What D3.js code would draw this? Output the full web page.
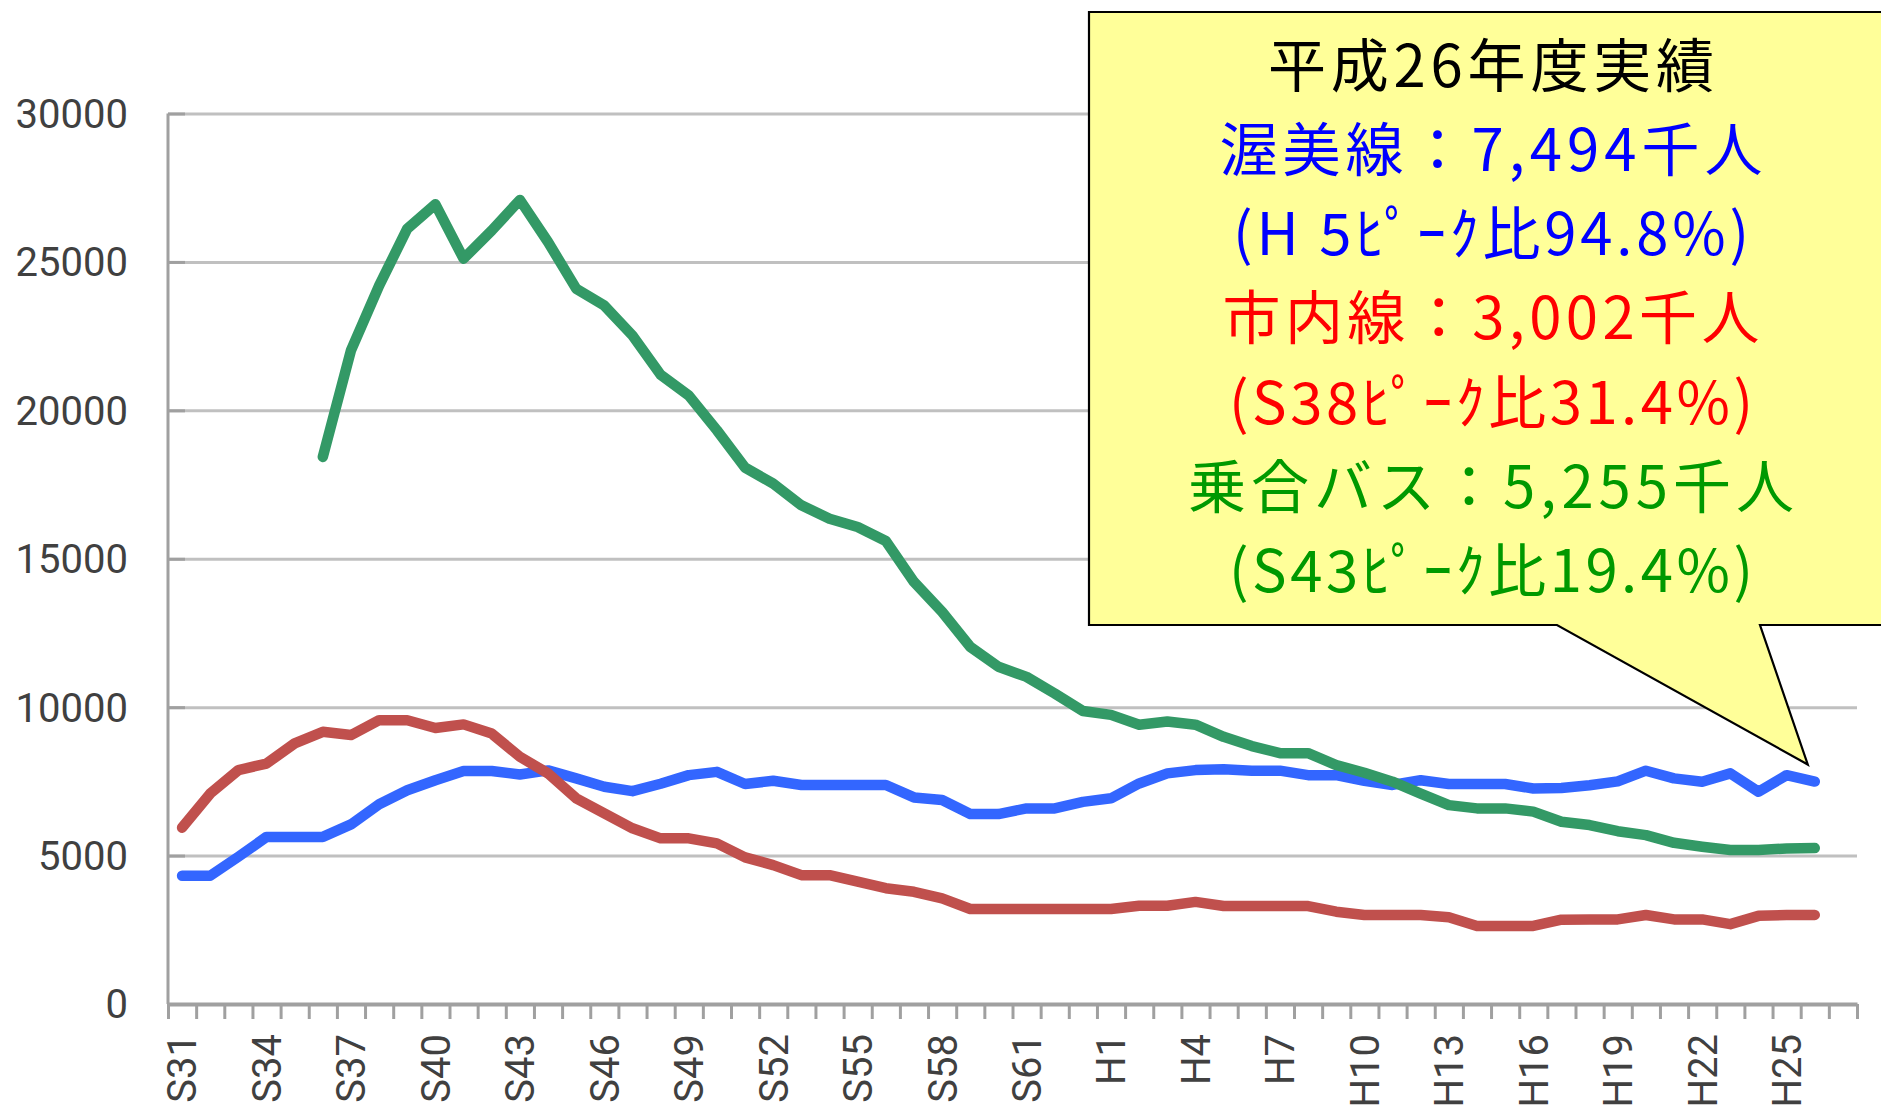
<!DOCTYPE html>
<html>
<head>
<meta charset="utf-8">
<script src="https://cdn.jsdelivr.net/npm/d3@7"></script>
<style>
  html, body { margin: 0; padding: 0; background: #ffffff; }
  svg { display: block; }
</style>
</head>
<body>
<script>
// ---- data ----
const categories = [
  "S31","S32","S33","S34","S35","S36","S37","S38","S39","S40","S41","S42","S43","S44","S45","S46","S47","S48","S49","S50",
  "S51","S52","S53","S54","S55","S56","S57","S58","S59","S60","S61","S62","S63",
  "H1","H2","H3","H4","H5","H6","H7","H8","H9","H10","H11","H12","H13","H14","H15","H16","H17","H18","H19","H20",
  "H21","H22","H23","H24","H25","H26","H27"
];
const tickLabelEvery = 3;
const yTicks = [0, 5000, 10000, 15000, 20000, 25000, 30000];

// 渥美線 (S31 .. H26)
const atsumiLine = [
  4320,4320,4960,5630,5630,5630,6050,6730,7200,7540,7850,7850,7730,7870,7600,7320,7170,7420,7710,7820,
  7410,7520,7380,7380,7380,7380,6960,6870,6400,6400,6590,6590,6810,
  6930,7430,7770,7880,7905,7860,7860,7710,7710,7520,7380,7540,7410,7410,7410,7260,7280,7370,7500,7860,
  7600,7490,7770,7150,7710,7494
];
// 市内線
const shinaiLine = [
  5940,7090,7880,8100,8780,9170,9060,9561,9560,9300,9420,9110,8330,7770,6930,6420,5920,5580,5580,5410,
  4940,4680,4340,4340,4120,3900,3780,3560,3200,3200,3200,3200,3200,
  3200,3310,3310,3440,3300,3300,3300,3300,3110,3000,3000,3000,2920,2630,2630,2630,2840,2850,2850,3000,
  2850,2850,2690,2970,3000,3002
];
// 乗合バス
const noriaiBus = [
  null,null,null,null,null,18430,22020,24200,26120,26940,25110,26060,27088,25670,24100,23530,22520,21200,20500,19330,
  18070,17530,16800,16350,16070,15600,14220,13210,12030,11360,11020,10460,9870,
  9740,9410,9520,9410,9000,8690,8450,8450,8050,7790,7490,7090,6700,6590,6590,6480,6140,6030,5820,5690,
  5430,5300,5190,5190,5240,5255
];

const seriesNames = ["渥美線", "市内線", "乗合バス"];
const seriesColors = ["#3366FF", "#C0504D", "#339966"];

const calloutLines = [
  { text: "平成26年度実績", color: "#000000" },
  { text: "渥美線：7,494千人", color: "#0000FF" },
  { text: "(H 5ﾋﾟｰｸ比94.8%)", color: "#0000FF" },
  { text: "市内線：3,002千人", color: "#FF0000" },
  { text: "(S38ﾋﾟｰｸ比31.4%)", color: "#FF0000" },
  { text: "乗合バス：5,255千人", color: "#009900" },
  { text: "(S43ﾋﾟｰｸ比19.4%)", color: "#009900" }
];
const calloutWidths = [446, 543, 516, 537, 524, 606, 524];

// ---- layout ----
const W = 1881, H = 1108;
const plot = { left: 168, right: 1857, top: 113.5, bottom: 1004 };

const svg = d3.select("body").append("svg")
  .attr("width", W).attr("height", H)
  .attr("viewBox", `0 0 ${W} ${H}`);

const x = d3.scaleBand().domain(categories).range([plot.left, plot.right]).paddingInner(0).paddingOuter(0);
const xEdge = d3.scaleLinear().domain([0, categories.length]).range([plot.left, plot.right]);
const y = d3.scaleLinear().domain([0, 30000]).range([plot.bottom, plot.top]);
const cx = i => x(categories[i]) + x.bandwidth() / 2;

// gridlines
const grid = svg.append("g")
  .attr("transform", `translate(${plot.left},0)`)
  .call(d3.axisLeft(y).tickValues(yTicks.filter(v => v > 0)).tickSize(-(plot.right - plot.left)).tickFormat(""));
grid.select(".domain").remove();
grid.selectAll("line").attr("stroke", "#C0C0C0").attr("stroke-width", 3);

// y tick stubs (inside)
const ystub = svg.append("g")
  .attr("transform", `translate(${plot.left},0)`)
  .call(d3.axisLeft(y).tickValues(yTicks).tickSize(-17).tickFormat(""));
ystub.select(".domain").remove();
ystub.selectAll("line").attr("stroke", "#A0A0A0").attr("stroke-width", 3);

// y labels
svg.append("g").selectAll("text").data(yTicks).join("text")
  .attr("x", 128).attr("y", d => y(d)).attr("dy", "0.36em")
  .attr("text-anchor", "end")
  .attr("font-family", "Roboto, 'Liberation Sans', sans-serif")
  .attr("font-size", 40).attr("fill", "#404040")
  .text(d => d);

// y axis line
svg.append("line")
  .attr("x1", plot.left).attr("x2", plot.left)
  .attr("y1", y(30000)).attr("y2", plot.bottom)
  .attr("stroke", "#A0A0A0").attr("stroke-width", 3);

// x axis with ticks at category boundaries
const xa = svg.append("g")
  .attr("transform", `translate(0,${plot.bottom})`)
  .call(d3.axisBottom(xEdge).tickValues(d3.range(categories.length + 1)).tickSize(15).tickFormat("").tickSizeOuter(0));
xa.select(".domain").attr("stroke", "#A0A0A0").attr("stroke-width", 4);
xa.selectAll("line").attr("stroke", "#A0A0A0").attr("stroke-width", 3);

// x labels
svg.append("g").selectAll("text")
  .data(categories.map((c, i) => ({ c, i })).filter(d => d.i % tickLabelEvery === 0))
  .join("text")
  .attr("transform", d => `translate(${cx(d.i)},1034) rotate(-90)`)
  .attr("dy", "0.36em")
  .attr("text-anchor", "end")
  .attr("font-family", "Roboto, 'Liberation Sans', sans-serif")
  .attr("font-size", 40).attr("fill", "#404040")
  .text(d => d.c);

// lines
const allSeries = [atsumiLine, shinaiLine, noriaiBus];
const line = d3.line()
  .defined(d => d.v !== null)
  .x(d => cx(d.i))
  .y(d => y(d.v));

svg.append("g").selectAll("path").data(allSeries).join("path")
  .attr("d", s => line(s.map((v, i) => ({ v, i }))))
  .attr("fill", "none")
  .attr("stroke", (s, k) => seriesColors[k])
  .attr("stroke-width", 10.5)
  .attr("stroke-linejoin", "round")
  .attr("stroke-linecap", "round")
  .append("title").text((s, k) => seriesNames[k]);

// callout
const lastIdx = atsumiLine.length - 1;
const tipX = cx(lastIdx) - 7, tipY = y(atsumiLine[lastIdx]) - 17;
const box = { left: 1089, top: 12, right: 1895, bottom: 625 };
const callout = svg.append("g");
callout.append("path")
  .attr("d", `M${box.left},${box.top} L${box.right},${box.top} L${box.right},${box.bottom} L1760,${box.bottom} L${tipX},${tipY} L1557,${box.bottom} L${box.left},${box.bottom} Z`)
  .attr("fill", "#FFFF99")
  .attr("stroke", "#000000")
  .attr("stroke-width", 2.2)
  .attr("stroke-linejoin", "miter");

const firstCenter = 66, lineStep = 84.2;
callout.selectAll("text").data(calloutLines).join("text")
  .attr("x", 1491)
  .attr("y", (d, i) => firstCenter + i * lineStep)
  .attr("dy", "0.36em")
  .attr("text-anchor", "middle")
  .attr("font-family", "'Noto Sans CJK JP', 'Noto Sans CJK SC', sans-serif")
  .attr("font-size", 58)
  .attr("textLength", (d, i) => calloutWidths[i])
  .attr("lengthAdjust", "spacing")
  .attr("fill", d => d.color)
  .text(d => d.text);
</script>
</body>
</html>
